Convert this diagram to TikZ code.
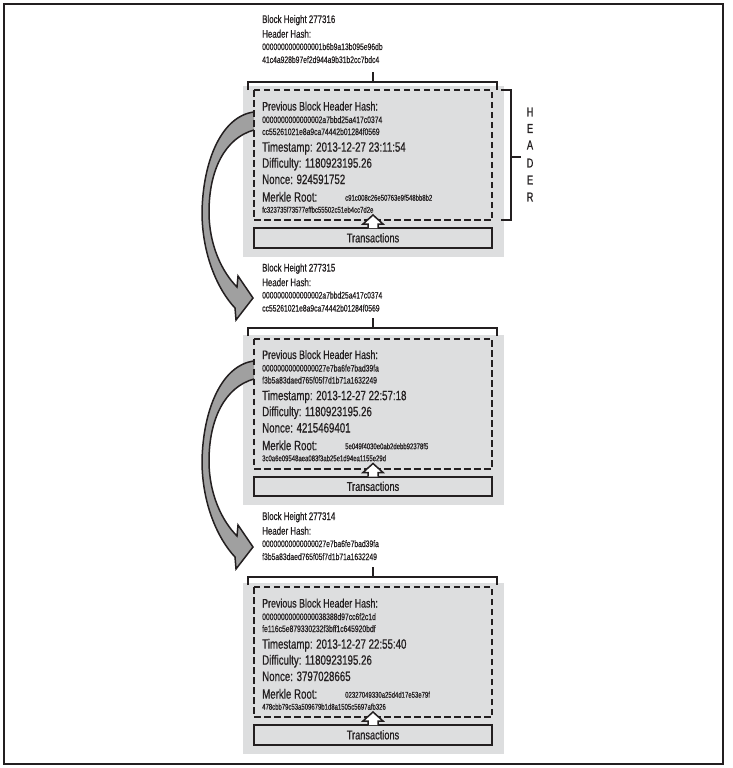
\documentclass[tikz,border=0pt]{standalone}
\usepackage{fontspec}
\setmainfont{Liberation Sans}[FakeStretch=0.72,FakeBold=0.6]
\definecolor{boxgray}{RGB}{221,222,223}
\definecolor{arrowgray}{RGB}{160,160,160}
\definecolor{ink}{RGB}{35,31,32}
\begin{document}
\begin{tikzpicture}[x=1pt,y=-1pt,
  lbl/.style={anchor=base west, inner sep=0pt, text=ink},
  big/.style={lbl, font=\fontsize{13.5}{15}\selectfont},
  mid/.style={lbl, font=\fontsize{12.3}{14}\selectfont},
  sm/.style={lbl, font=\fontsize{11}{13}\selectfont},
  hash/.style={lbl, font=\fontsize{9.4}{11}\selectfont},
  mhash/.style={lbl, font=\fontsize{8.3}{10}\selectfont},
  letter/.style={inner sep=0pt, text=ink, font=\fontsize{13}{15}\selectfont},
  brk/.style={draw=ink, line width=1.8pt},
  dashbox/.style={draw=ink, line width=2pt, dash pattern=on 6.5pt off 3.5pt},
  txbox/.style={draw=ink, line width=2pt, minimum width=238pt, minimum height=19.5pt, inner sep=0pt, text=ink, font=\fontsize{12.8}{14}\selectfont},
  bigarrow/.style={draw=ink, line width=1.5pt, line join=miter}
]
\useasboundingbox (0,0) rectangle (732,768);
\draw[ink, line width=1.2pt] (4,4) rectangle (723,764);

% gray block backgrounds
\foreach \dy in {0,248.5,497} {
  \fill[boxgray, yshift=-\dy pt] (243,86) rectangle (504,256.5);
}

% big curved arrows
\foreach \s in {0,249} {
  \begin{scope}[yshift=-\s pt]
  \fill[arrowgray] (254,112) .. controls (222,116) and (203,160) .. (202,212) .. controls (202,255) and (218,290) .. (235,308) -- (236,320) -- (253,298) -- (238,276) -- (237,287) .. controls (222,272) and (209,245) .. (209,212) .. controls (209,170) and (225,138) .. (254,130) -- cycle;
  \draw[bigarrow] (254,130) .. controls (225,138) and (209,170) .. (209,212) .. controls (209,245) and (222,272) .. (237,287) -- (238,276) -- (253,298) -- (236,320) -- (235,308) .. controls (218,290) and (202,255) .. (202,212) .. controls (203,160) and (222,116) .. (254,112);
  \end{scope}
}

% blocks
\foreach \k/\dy/\by/\hgt/\ha/\hb/\pa/\pb/\ts/\nc/\ma/\mb in {
 1/0/82/277316/0000000000000001b6b9a13b095e96db/41c4a928b97ef2d944a9b31b2cc7bdc4/0000000000000002a7bbd25a417c0374/cc55261021e8a9ca74442b01284f0569/23:11:54/924591752/c91c008c26e50763e9f548bb8b2/fc323735f73577effbc55502c51eb4cc7d2e,
 2/248.5/79.5/277315/0000000000000002a7bbd25a417c0374/cc55261021e8a9ca74442b01284f0569/00000000000000027e7ba6fe7bad39fa/f3b5a83daed765f05f7d1b71a1632249/22:57:18/4215469401/5e049f4030e0ab2debb92378f5/3c0a6e09548aea083f3ab25e1d94ea1155e29d,
 3/497/80/277314/00000000000000027e7ba6fe7bad39fa/f3b5a83daed765f05f7d1b71a1632249/00000000000000038388d97cc6f2c1d/fe116c5e879330232f3bff1c645920bdf/22:55:40/3797028665/02327049330a25d4d17e53e79f/478cbb79c53a509679b1d8a1505c5697afb326} {
  \begin{scope}[yshift=-\dy pt]
  % top bracket
  \draw[brk] (248,\by+8) -- (248,\by) -- (497,\by) -- (497,\by+8);
  \draw[brk] (373,\by) -- (373,\by-10);
  % header texts above
  \node[sm] (bh\k) at (262,23) {Block Height \hgt};
  \node[sm] (hh\k) at (262,37.7) {Header Hash:};
  \node[hash] (ha\k) at (262,50) {\ha};
  \node[hash] (hb\k) at (262,63) {\hb};
  % dashed header box
  \draw[dashbox] (254,90) rectangle (492,220);
  \node[mid] (pl\k) at (262,110.5) {Previous Block Header Hash:};
  \node[hash] (pa\k) at (262,123) {\pa};
  \node[hash] (pb\k) at (262,135) {\pb};
  \node[big] (ts\k) at (262,151.7) {Timestamp: 2013-12-27 \ts};
  \node[big] (df\k) at (262,167.7) {Difficulty: 1180923195.26};
  \node[big] (nc\k) at (262,184) {Nonce: \nc};
  \node[big] (mr\k) at (262,201.7) {Merkle Root:};
  \node[mhash] (ma\k) at (345,200.7) {\ma};
  \node[mhash] (mb\k) at (262,212.7) {\mb};
  % transactions
  \node[txbox] (tx\k) at (373,237.8) {Transactions};
  \fill[white] (368,228) -- (368,224) -- (363,224) -- (373,215) -- (383,224) -- (378,224) -- (378,228) -- cycle;
  \draw[draw=ink, line width=1.5pt, line join=miter] (368,228) -- (368,224) -- (363,224) -- (373,215) -- (383,224) -- (378,224) -- (378,228);
  \end{scope}
}

% HEADER bracket
\draw[brk] (501,90) -- (511,90) -- (511,220) -- (501,220);
\draw[brk] (511,157) -- (521,157);
\node[letter] (hH) at (530,112) {H};
\node[letter] (hE) at (530,128.5) {E};
\node[letter] (hA) at (530,145) {A};
\node[letter] (hD) at (530,163) {D};
\node[letter] (hE2) at (530,180) {E};
\node[letter] (hR) at (530,197) {R};
\end{tikzpicture}
\end{document}
